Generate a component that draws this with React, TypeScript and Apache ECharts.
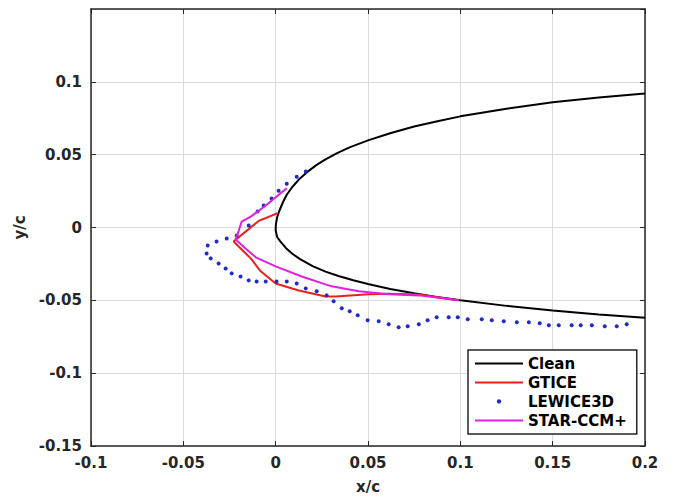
import React, { useEffect, useRef } from "react";
import * as echarts from "echarts";

// Tick labels
const xTicks = [-0.1, -0.05, 0, 0.05, 0.1, 0.15, 0.2];
const yTicks = [-0.15, -0.1, -0.05, 0, 0.05, 0.1];

// Series names
const seriesNames = ["Clean", "GTICE", "LEWICE3D", "STAR-CCM+"];

// Clean airfoil contour (upper surface from x=0.2 to leading edge, then lower surface)
const cleanPoints: [number, number][] = [
  [0.2, 0.092], [0.175, 0.0892], [0.15, 0.086], [0.125, 0.0815], [0.1, 0.0763],
  [0.087, 0.0728], [0.075, 0.0693], [0.062, 0.0647], [0.05, 0.0598], [0.04, 0.055],
  [0.033, 0.0509], [0.027, 0.0468], [0.022, 0.0428], [0.017, 0.038], [0.013, 0.0335],
  [0.009, 0.0278], [0.006, 0.0225], [0.004, 0.0175], [0.002, 0.0115], [0.0008, 0.007],
  [0.0001, 0.002], [0, -0.002], [0.0008, -0.0065], [0.0025, -0.0095],
  [0.0055, -0.014], [0.009, -0.018], [0.013, -0.0215], [0.02, -0.0265],
  [0.027, -0.0303], [0.034, -0.0333], [0.042, -0.0362], [0.05, -0.0388],
  [0.062, -0.0422], [0.075, -0.0452], [0.087, -0.0477], [0.1, -0.05],
  [0.125, -0.0538], [0.15, -0.057], [0.175, -0.0598], [0.2, -0.062],
];

// GTICE ice shape
const gticePoints: [number, number][] = [
  [0.001, 0.0098], [-0.0092, 0.0045], [-0.0228, -0.0096], [-0.0135, -0.0212],
  [-0.0081, -0.0301], [0, -0.0384], [0.0125, -0.0432], [0.0271, -0.0473],
  [0.0325, -0.0473], [0.0504, -0.0459], [0.0612, -0.0455], [0.0775, -0.046],
  [0.0991, -0.05],
];

// LEWICE3D ice shape (points)
const lewicePoints: [number, number][] = [
  [0.0163, 0.0384], [0.0114, 0.0349], [0.006, 0.0301], [0.0016, 0.0253],
  [-0.0022, 0.0199], [-0.0065, 0.0151], [-0.0098, 0.011], [-0.0146, 0.0014],
  [-0.0211, -0.0055], [-0.0265, -0.0075], [-0.032, -0.0096], [-0.0368, -0.0123],
  [-0.0374, -0.0178], [-0.0352, -0.0212], [-0.0309, -0.0247], [-0.0271, -0.0281],
  [-0.0238, -0.0315], [-0.019, -0.0336], [-0.0146, -0.0363], [-0.0103, -0.037],
  [-0.0054, -0.037], [0.0005, -0.037], [0.006, -0.037], [0.0114, -0.0384],
  [0.0163, -0.0418], [0.0222, -0.0438], [0.0276, -0.0466], [0.0314, -0.0507],
  [0.0358, -0.0555], [0.0401, -0.0575], [0.0444, -0.0603], [0.0498, -0.0637],
  [0.0558, -0.0644], [0.0612, -0.0664], [0.0666, -0.0685], [0.0715, -0.0678],
  [0.0775, -0.0664], [0.0823, -0.0637], [0.0872, -0.0616], [0.0937, -0.0616],
  [0.0986, -0.0616], [0.104, -0.063], [0.1116, -0.063], [0.117, -0.0637],
  [0.1235, -0.0644], [0.1306, -0.0651], [0.1371, -0.0651], [0.143, -0.0658],
  [0.1479, -0.0671], [0.1533, -0.0671], [0.1603, -0.0671], [0.1652, -0.0671],
  [0.1712, -0.0671], [0.1782, -0.0678], [0.1847, -0.0678], [0.1901, -0.0664],
];

// STAR-CCM+ ice shape
const starPoints: [number, number][] = [
  [0.006, 0.027], [-0.0054, 0.0151], [-0.0135, 0.0075], [-0.0184, 0.0041],
  [-0.02, -0.0021], [-0.0217, -0.0082], [-0.0163, -0.0144], [-0.0108, -0.0205],
  [0, -0.0267], [0.0141, -0.0336], [0.0303, -0.0404], [0.045, -0.0438],
  [0.0612, -0.0459], [0.0775, -0.0466], [0.0991, -0.05],
];

const FONT = "'DejaVu Sans', sans-serif";
const AXIS_COLOR = "#262626";
const LINE_ICON = "path://M0 0H48V2H0Z";
const DOT_ICON = "path://M0 0M14 14M5 7a2 2 0 1 0 4 0a2 2 0 1 0 -4 0z";

const fmt = (v: number) => String(+Number(v).toFixed(2));

export default function App() {
  const ref = useRef<HTMLDivElement>(null);
  useEffect(() => {
    if (!ref.current) return;
    const chart = echarts.init(ref.current, undefined, { renderer: "svg" });
    const axisLine = { show: true, onZero: false, lineStyle: { color: AXIS_COLOR, width: 1.5 } };
    const tick = { show: true, inside: true, length: 5, lineStyle: { color: AXIS_COLOR, width: 1 } };
    const splitLine = { show: true, lineStyle: { color: "#dcdcdc", width: 1 } };
    const labelStyle = { color: AXIS_COLOR, fontFamily: FONT, fontWeight: "bold" as const, fontSize: 15 };
    chart.setOption({
      animation: false,
      backgroundColor: "#ffffff",
      grid: { left: 91, right: 30, top: 9, bottom: 52, containLabel: false },
      xAxis: [
        {
          type: "value", min: xTicks[0], max: xTicks[xTicks.length - 1], interval: 0.05,
          position: "bottom",
          name: "x/c", nameLocation: "middle", nameGap: 33,
          nameTextStyle: { ...labelStyle },
          axisLine, axisTick: tick, splitLine,
          axisLabel: { ...labelStyle, margin: 9, formatter: fmt },
        },
        {
          type: "value", min: xTicks[0], max: xTicks[xTicks.length - 1], interval: 0.05,
          position: "top", axisLine, axisTick: tick, splitLine: { show: false },
          axisLabel: { show: false },
        },
      ],
      yAxis: [
        {
          type: "value", min: yTicks[0], max: 0.15, interval: 0.05,
          position: "left",
          name: "y/c", nameLocation: "middle", nameGap: 64, nameRotate: 90,
          nameTextStyle: { ...labelStyle },
          axisLine, axisTick: tick, splitLine,
          axisLabel: { ...labelStyle, margin: 9, showMaxLabel: false, formatter: fmt },
        },
        {
          type: "value", min: yTicks[0], max: 0.15, interval: 0.05,
          position: "right", axisLine, axisTick: tick, splitLine: { show: false },
          axisLabel: { show: false },
        },
      ],
      legend: {
        left: 468, top: 350, orient: "vertical",
        itemWidth: 48, itemHeight: 15, itemGap: 4, itemTextGap: 5,
        padding: [6, 10, 6, 7],
        borderColor: AXIS_COLOR, borderWidth: 1.5, backgroundColor: "#ffffff",
        textStyle: { color: "#000", fontFamily: FONT, fontWeight: "bold", fontSize: 15 },
        data: [
          { name: seriesNames[0], icon: LINE_ICON },
          { name: seriesNames[1], icon: LINE_ICON },
          { name: seriesNames[2], icon: DOT_ICON },
          { name: seriesNames[3], icon: LINE_ICON },
        ],
      },
      series: [
        {
          name: seriesNames[0], type: "line", data: cleanPoints, symbol: "none", showSymbol: false,
          lineStyle: { color: "#000000", width: 2 }, itemStyle: { color: "#000000" }, z: 3,
        },
        {
          name: seriesNames[1], type: "line", data: gticePoints, symbol: "none", showSymbol: false,
          lineStyle: { color: "#e8201c", width: 2 }, itemStyle: { color: "#e8201c" }, z: 4,
        },
        {
          name: seriesNames[2], type: "scatter", data: lewicePoints, symbol: "circle", symbolSize: 4,
          itemStyle: { color: "#1f2bc4", opacity: 1 }, z: 5,
        },
        {
          name: seriesNames[3], type: "line", data: starPoints, symbol: "none", showSymbol: false,
          lineStyle: { color: "#e020e0", width: 2 }, itemStyle: { color: "#e020e0" }, z: 6,
        },
      ],
    });
    return () => chart.dispose();
  }, []);
  return (
    <div
      ref={ref}
      style={{ position: "fixed", left: 0, top: 0, width: 675, height: 499, background: "#fff" }}
    />
  );
}
